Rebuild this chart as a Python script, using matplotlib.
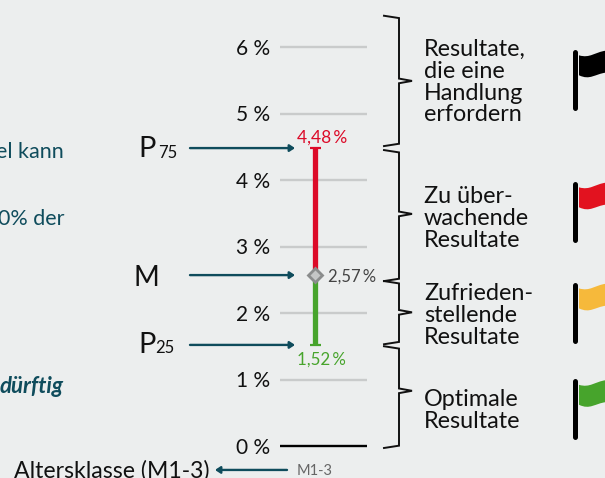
import matplotlib
matplotlib.use("Agg")
import matplotlib.pyplot as plt
from matplotlib.patches import PathPatch
from matplotlib.path import Path

# Datos
ticks = [0, 1, 2, 3, 4, 5, 6]
tick_labels = ["0 %", "1 %", "2 %", "3 %", "4 %", "5 %", "6 %"]
p25 = 1.52
mediana = 2.57
p75 = 4.48
etiqueta_p25 = "1,52\u2009%"
etiqueta_m = "2,57\u2009%"
etiqueta_p75 = "4,48\u2009%"
klasse = "M1-3"
klasse_lang = "Altersklasse (M1-3)"

# Llaves: inicio, punta, fin (en %)
llaves = [(6.47, 5.49, 4.51), (4.45, 3.49, 2.48), (2.48, 2.01, 1.53), (1.50, 0.83, -0.03)]
textos = ["Resultate,\ndie eine\nHandlung\nerfordern", "Zu über-\nwachende\nResultate",
          "Zufrieden-\nstellende\nResultate", "Optimale\nResultate"]
texto_y = [5.47, 3.42, 1.96, 0.53]
flag_colors = ["#000000", "#E2121F", "#F6B93B", "#47A42C"]
flag_y = [5.955, 3.97, 2.45, 1.0]

FONDO = "#ECEEEE"
TEAL = "#0F4C5C"

plt.rcParams["font.family"] = ["Lato", "DejaVu Sans"]

fig = plt.figure(figsize=(6.05, 4.78), dpi=100, facecolor=FONDO)
ax = fig.add_axes([0, 0, 1, 1])
ax.set_xlim(0, 605)
ax.set_ylim((446 - 478) / 66.5, 446 / 66.5)
ax.axis("off")

# Rejilla
for t, lab in zip(ticks, tick_labels):
    if t == 0:
        ax.plot([280, 367], [t, t], color="black", lw=1.7, solid_capstyle="butt")
    else:
        ax.plot([280, 367], [t, t], color="#C9CBCB", lw=1.7, solid_capstyle="butt")
    ax.text(270, t - 0.025, lab, ha="right", va="center", fontsize=15, color="#111111")

# Rango
ax.plot([315, 315], [mediana, p75], color="#DC0A28", lw=3.8, solid_capstyle="butt")
ax.plot([315, 315], [p25, mediana], color="#47A42C", lw=3.8, solid_capstyle="butt")
ax.plot([309.5, 320.5], [p75, p75], color="#DC0A28", lw=1.6, solid_capstyle="butt")
ax.plot([309.5, 320.5], [p25, p25], color="#47A42C", lw=1.6, solid_capstyle="butt")
ax.plot([315], [mediana], marker="D", ms=7.5, mfc="#C4C6C6", mec="#8A8C8C", mew=2)

ax.text(297, p75 + 0.16, etiqueta_p75, color="#DC0A28", fontsize=12.5, ha="left", va="center")
ax.text(297, p25 - 0.22, etiqueta_p25, color="#47A42C", fontsize=12.2, ha="left", va="center")
ax.text(328, mediana - 0.02, etiqueta_m, color="#444444", fontsize=12, ha="left", va="center")

# Flechas
for v in [p75, mediana, p25]:
    ax.annotate("", xy=(295, v), xytext=(190, v),
                arrowprops=dict(arrowstyle="-|>,head_width=0.2,head_length=0.3", color=TEAL, lw=1.7,
                                shrinkA=0, shrinkB=0))
ax.text(138, p75 - 0.02, "P", fontsize=21, ha="left", va="center", color="#111111")
ax.text(158, p75 - 0.07, "75", fontsize=12, ha="left", va="center", color="#111111")
ax.text(146.5, mediana - 0.05, "M", fontsize=20, ha="center", va="center", color="#111111")
ax.text(138, p25 + 0.0, "P", fontsize=21, ha="left", va="center", color="#111111")
ax.text(155, p25 - 0.05, "25", fontsize=12, ha="left", va="center", color="#111111")

# Eje inferior
ax.annotate("", xy=(215, -0.36), xytext=(287, -0.36),
            arrowprops=dict(arrowstyle="-|>,head_width=0.2,head_length=0.3", color=TEAL, lw=1.7,
                            shrinkA=0, shrinkB=0))
ax.text(297, -0.375, klasse, fontsize=10.5, color="#666666", ha="left", va="center")
ax.text(210, -0.37, klasse_lang, fontsize=16.6, color="#111111", ha="right", va="center")

# Texto recortado a la izquierda
ax.text(64, 4.42, "el kann", fontsize=15.5, color=TEAL, ha="right", va="center")
ax.text(64, 3.42, "0% der", fontsize=15.5, color=TEAL, ha="right", va="center")
ax.text(64, 0.89, "dürftig", fontsize=16, color=TEAL, ha="right", va="center",
        fontweight="bold", fontstyle="italic")

# Llaves
for ini, punta, fin in llaves:
    d = 0.035
    xs = [384, 399, 399, 412, 399, 399, 384]
    ys = [ini, ini - d, punta + d, punta, punta - d, fin + d, fin]
    ax.plot(xs, ys, color="#111111", lw=1.4, solid_joinstyle="miter")

for txt, y in zip(textos, texto_y):
    ax.text(424, y, txt, fontsize=16.8, color="#111111", ha="left", va="center", linespacing=1.04)

# Banderas
for col, y in zip(flag_colors, flag_y):
    ax.plot([574.5, 574.5], [y - 0.03, y - 0.87], color="black", lw=3.6, solid_capstyle="round")
    verts = [(579, y - 0.08), (590, y - 0.13), (595, y - 0.03), (606, y - 0.01),
             (606, y - 0.34), (595, y - 0.36), (590, y - 0.46), (579, y - 0.38), (579, y - 0.08)]
    codes = [Path.MOVETO, Path.CURVE4, Path.CURVE4, Path.CURVE4, Path.LINETO,
             Path.CURVE4, Path.CURVE4, Path.CURVE4, Path.CLOSEPOLY]
    ax.add_patch(PathPatch(Path(verts, codes), facecolor=col, edgecolor="none"))

fig.savefig("out.png", dpi=100, facecolor=FONDO)
